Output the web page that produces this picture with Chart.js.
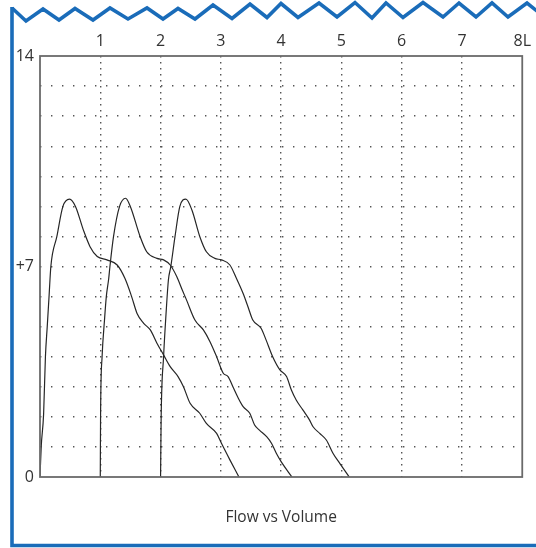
<!DOCTYPE html>
<html>
<head>
<meta charset="utf-8">
<script src="https://cdn.jsdelivr.net/npm/chart.js@4"></script>
<style>
  html, body { margin: 0; padding: 0; background: #ffffff; }
  #wrap { width: 536px; height: 548px; position: relative; }
</style>
</head>
<body>
<div id="wrap"><canvas id="c" width="536" height="548"></canvas></div>
<script>
// ---- data ----
const volume1 = [0, 0.02, 0.06, 0.09, 0.12, 0.15, 0.18, 0.28, 0.38, 0.49, 0.59, 0.72, 0.83, 0.95, 1.11, 1.28, 1.41, 1.52, 1.61, 1.72, 1.83, 1.94, 2.05, 2.16, 2.29, 2.38, 2.49, 2.65, 2.76, 2.93, 3.01, 3.15, 3.30];
const flow1   = [0, 1.0, 2.1, 4.0, 5.0, 6.0, 7.0, 8.0, 9.0, 9.24, 8.99, 8.21, 7.66, 7.33, 7.22, 7.05, 6.6, 6.0, 5.44, 5.11, 4.89, 4.45, 4.06, 3.67, 3.34, 3.0, 2.45, 2.12, 1.78, 1.45, 1.12, 0.57, 0];

const volume2 = [1.0, 1.005, 1.03, 1.07, 1.10, 1.14, 1.16, 1.22, 1.32, 1.42, 1.50, 1.66, 1.77, 1.94, 2.05, 2.16, 2.27, 2.36, 2.43, 2.57, 2.71, 2.82, 2.93, 3.04, 3.12, 3.20, 3.29, 3.37, 3.48, 3.56, 3.64, 3.76, 3.84, 3.92, 4.0, 4.18];
const flow2   = [0, 2.1, 4.0, 5.22, 6.0, 6.6, 7.0, 8.0, 9.0, 9.27, 8.99, 8.0, 7.49, 7.27, 7.22, 7.05, 6.66, 6.22, 5.89, 5.22, 4.89, 4.5, 4.0, 3.45, 3.34, 3.0, 2.62, 2.34, 2.12, 1.73, 1.56, 1.34, 1.12, 0.79, 0.51, 0];

const volume3 = [2.0, 2.01, 2.05, 2.09, 2.13, 2.17, 2.24, 2.32, 2.42, 2.52, 2.65, 2.76, 2.90, 3.01, 3.15, 3.26, 3.37, 3.45, 3.53, 3.67, 3.75, 3.86, 3.98, 4.09, 4.17, 4.25, 4.36, 4.47, 4.53, 4.64, 4.75, 4.86, 4.97, 5.13];
const flow3   = [0, 2.0, 4.0, 5.4, 6.55, 7.0, 8.0, 9.0, 9.24, 8.88, 8.0, 7.49, 7.27, 7.22, 7.05, 6.6, 6.1, 5.66, 5.22, 4.94, 4.56, 4.0, 3.56, 3.34, 2.89, 2.56, 2.23, 1.90, 1.67, 1.45, 1.23, 0.79, 0.46, 0];

const xTickLabels = ['', '1', '2', '3', '4', '5', '6', '7', '8L'];
const yLabelValues = [0, 7, 14];
const yLabelTexts  = ['0', '+7', '14'];
const chartTitle = 'Flow vs Volume';

// ---- helpers ----
function toPoints(xs, ys) { return xs.map((x, i) => ({ x: x, y: ys[i] })); }

const FONT = "'Open Sans', 'Noto Sans', sans-serif";
const BLUE = '#1a6cb9';

const decoPlugin = {
  id: 'deco',
  beforeDraw(chart) {
    const ctx = chart.ctx;
    ctx.save();
    ctx.fillStyle = '#ffffff';
    ctx.fillRect(0, 0, chart.width, chart.height);
    // blue decorative frame: zigzag top, left and bottom edges
    const zig = [[12,8],[26,21],[43,9],[59,20],[75,8.5],[93,20],[110,8],[128,19],[147,8],[163,19],[178,8.5],[195,19],[213,5],[232,18.5],[250,4],[267,17.5],[281,3.5],[298,17.5],[319,3],[337,17],[355,2.5],[372,18],[386,3],[403,17.5],[423,2.5],[443,17],[459,3],[476,17],[492,3],[508,17],[527,3],[542,15]];
    ctx.strokeStyle = BLUE;
    ctx.lineWidth = 3.6;
    ctx.lineJoin = 'miter';
    ctx.beginPath();
    ctx.moveTo(zig[0][0], zig[0][1]);
    for (let i = 1; i < zig.length; i++) ctx.lineTo(zig[i][0], zig[i][1]);
    ctx.stroke();
    ctx.beginPath();
    ctx.moveTo(12, 7);
    ctx.lineTo(12, 545.5);
    ctx.lineTo(540, 545.5);
    ctx.stroke();
    ctx.restore();
  },
  afterDatasetsDraw(chart) {
    const a = chart.chartArea;
    const ctx = chart.ctx;
    ctx.save();
    ctx.strokeStyle = '#6a6a6a';
    ctx.lineWidth = 1.8;
    ctx.strokeRect(a.left, a.top, a.right - a.left, a.bottom - a.top);
    ctx.restore();
  }
};

function ds(xs, ys) {
  return {
    data: toPoints(xs, ys),
    showLine: true,
    borderColor: '#262626',
    borderWidth: 1.2,
    pointRadius: 0,
    cubicInterpolationMode: 'monotone',
    fill: false
  };
}

new Chart(document.getElementById('c'), {
  type: 'scatter',
  data: { datasets: [ds(volume1, flow1), ds(volume2, flow2), ds(volume3, flow3)] },
  options: {
    responsive: false,
    animation: false,
    devicePixelRatio: 1,
    layout: { padding: { left: 0, right: 11, top: 0, bottom: 0 } },
    scales: {
      x: {
        type: 'linear', position: 'top', min: 0, max: 8,
        ticks: {
          stepSize: 1, padding: 5, autoSkip: false, maxRotation: 0,
          callback: (v) => xTickLabels[v] !== undefined ? xTickLabels[v] : '',
          font: { family: FONT, size: 16 }, color: '#333333'
        },
        grid: {
          drawTicks: false, lineWidth: 1.4,
          color: (c) => (c.tick && (c.tick.value === 0 || c.tick.value === 8)) ? 'rgba(0,0,0,0)' : '#555555'
        },
        border: { display: false, dash: [1.4, 4.6] },
        afterFit: (s) => { s.height = 56; }
      },
      xTitle: {
        type: 'linear', position: 'bottom', min: 0, max: 8,
        ticks: { display: false },
        grid: { display: false, drawTicks: false },
        border: { display: false },
        title: {
          display: true, text: chartTitle,
          font: { family: FONT, size: 15.5, weight: 'normal' }, color: '#333333',
          padding: { top: 32, bottom: 21 }
        },
        afterFit: (s) => { s.height = 71; }
      },
      y: {
        type: 'linear', min: 0, max: 14,
        ticks: {
          stepSize: 1, padding: 6, autoSkip: false,
          callback: (v) => { const i = yLabelValues.indexOf(v); return i >= 0 ? yLabelTexts[i] : ''; },
          font: { family: FONT, size: 16 }, color: '#333333'
        },
        grid: {
          drawTicks: false, lineWidth: 1.4,
          color: (c) => (c.tick && (c.tick.value === 0 || c.tick.value === 14)) ? 'rgba(0,0,0,0)' : '#555555'
        },
        border: { display: false, dash: [1.4, 9.6] },
        afterFit: (s) => { s.width = 40; }
      }
    },
    plugins: {
      legend: { display: false },
      tooltip: { enabled: false }
    }
  },
  plugins: [decoPlugin]
});
</script>
</body>
</html>
